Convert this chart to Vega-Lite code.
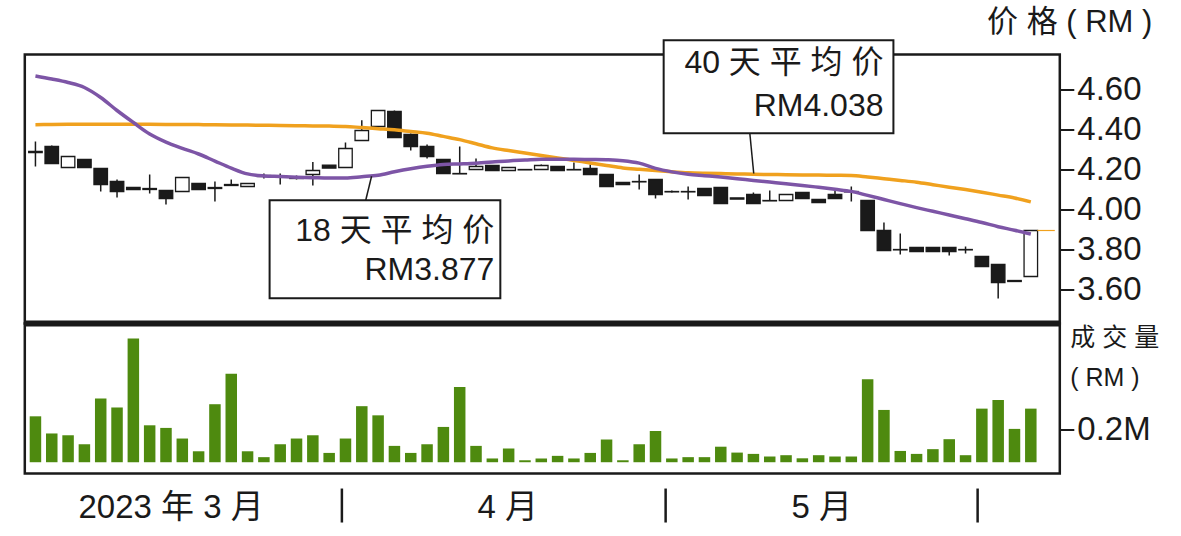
{
  "$schema": "https://vega.github.io/schema/vega-lite/v6.json",
  "padding": {"left": 19.8, "top": 4.5, "right": 0, "bottom": 0},
  "bounds": "flush",
  "spacing": 0,
  "config": {
    "font": "Liberation Sans, Noto Sans CJK SC",
    "view": {"stroke": "#1a1a1a", "strokeWidth": 2.5},
    "axis": {"grid": false, "domain": false, "labelColor": "#1a1a1a", "tickColor": "#1a1a1a", "titleColor": "#1a1a1a", "titleFontWeight": "normal", "labelLimit": 0, "titleLimit": 0}
  },
  "datasets": {
    "k": [
      {"day": 1, "open": 4.285, "high": 4.34, "low": 4.215, "close": 4.29, "vol": 0.281, "ma18": 4.6675, "ma40": 4.424},
      {"day": 2, "open": 4.315, "high": 4.32, "low": 4.23, "close": 4.23, "vol": 0.176, "ma18": 4.6525, "ma40": 4.425},
      {"day": 3, "open": 4.21, "high": 4.265, "low": 4.21, "close": 4.265, "vol": 0.165, "ma18": 4.635, "ma40": 4.426},
      {"day": 4, "open": 4.25, "high": 4.25, "low": 4.21, "close": 4.21, "vol": 0.11, "ma18": 4.61, "ma40": 4.4265},
      {"day": 5, "open": 4.205, "high": 4.205, "low": 4.09, "close": 4.125, "vol": 0.39, "ma18": 4.56, "ma40": 4.4265},
      {"day": 6, "open": 4.14, "high": 4.15, "low": 4.06, "close": 4.09, "vol": 0.335, "ma18": 4.495, "ma40": 4.4265},
      {"day": 7, "open": 4.11, "high": 4.11, "low": 4.1, "close": 4.1, "vol": 0.757, "ma18": 4.435, "ma40": 4.4265},
      {"day": 8, "open": 4.105, "high": 4.175, "low": 4.08, "close": 4.1, "vol": 0.226, "ma18": 4.3775, "ma40": 4.426},
      {"day": 9, "open": 4.095, "high": 4.095, "low": 4.025, "close": 4.055, "vol": 0.21, "ma18": 4.337, "ma40": 4.4255},
      {"day": 10, "open": 4.09, "high": 4.16, "low": 4.09, "close": 4.16, "vol": 0.145, "ma18": 4.306, "ma40": 4.425},
      {"day": 11, "open": 4.13, "high": 4.13, "low": 4.1, "close": 4.1, "vol": 0.067, "ma18": 4.2775, "ma40": 4.4245},
      {"day": 12, "open": 4.11, "high": 4.14, "low": 4.04, "close": 4.105, "vol": 0.355, "ma18": 4.242, "ma40": 4.424},
      {"day": 13, "open": 4.125, "high": 4.15, "low": 4.12, "close": 4.12, "vol": 0.542, "ma18": 4.207, "ma40": 4.423},
      {"day": 14, "open": 4.115, "high": 4.13, "low": 4.115, "close": 4.13, "vol": 0.067, "ma18": 4.178, "ma40": 4.422},
      {"day": 15, "open": 4.165, "high": 4.18, "low": 4.155, "close": 4.17, "vol": 0.031, "ma18": 4.168, "ma40": 4.421},
      {"day": 16, "open": 4.165, "high": 4.18, "low": 4.125, "close": 4.163, "vol": 0.11, "ma18": 4.165, "ma40": 4.42},
      {"day": 17, "open": 4.16, "high": 4.17, "low": 4.15, "close": 4.155, "vol": 0.145, "ma18": 4.1615, "ma40": 4.419},
      {"day": 18, "open": 4.175, "high": 4.237, "low": 4.12, "close": 4.195, "vol": 0.165, "ma18": 4.159, "ma40": 4.418},
      {"day": 19, "open": 4.222, "high": 4.222, "low": 4.207, "close": 4.207, "vol": 0.057, "ma18": 4.157, "ma40": 4.417},
      {"day": 20, "open": 4.21, "high": 4.335, "low": 4.21, "close": 4.305, "vol": 0.145, "ma18": 4.1575, "ma40": 4.4155},
      {"day": 21, "open": 4.345, "high": 4.446, "low": 4.345, "close": 4.395, "vol": 0.343, "ma18": 4.164, "ma40": 4.4095},
      {"day": 22, "open": 4.415, "high": 4.495, "low": 4.415, "close": 4.495, "vol": 0.287, "ma18": 4.1715, "ma40": 4.404},
      {"day": 23, "open": 4.49, "high": 4.495, "low": 4.36, "close": 4.36, "vol": 0.1, "ma18": 4.1885, "ma40": 4.3985},
      {"day": 24, "open": 4.375, "high": 4.38, "low": 4.295, "close": 4.315, "vol": 0.057, "ma18": 4.2035, "ma40": 4.39},
      {"day": 25, "open": 4.315, "high": 4.325, "low": 4.255, "close": 4.265, "vol": 0.11, "ma18": 4.216, "ma40": 4.3815},
      {"day": 26, "open": 4.25, "high": 4.25, "low": 4.18, "close": 4.18, "vol": 0.216, "ma18": 4.225, "ma40": 4.3655},
      {"day": 27, "open": 4.18, "high": 4.315, "low": 4.178, "close": 4.178, "vol": 0.461, "ma18": 4.228, "ma40": 4.3495},
      {"day": 28, "open": 4.2, "high": 4.255, "low": 4.2, "close": 4.215, "vol": 0.1, "ma18": 4.2315, "ma40": 4.329},
      {"day": 29, "open": 4.22, "high": 4.22, "low": 4.195, "close": 4.195, "vol": 0.023, "ma18": 4.237, "ma40": 4.308},
      {"day": 30, "open": 4.195, "high": 4.21, "low": 4.195, "close": 4.21, "vol": 0.084, "ma18": 4.243, "ma40": 4.2945},
      {"day": 31, "open": 4.2, "high": 4.2, "low": 4.198, "close": 4.198, "vol": 0.012, "ma18": 4.247, "ma40": 4.2825},
      {"day": 32, "open": 4.2, "high": 4.225, "low": 4.2, "close": 4.22, "vol": 0.023, "ma18": 4.251, "ma40": 4.27},
      {"day": 33, "open": 4.215, "high": 4.215, "low": 4.195, "close": 4.195, "vol": 0.039, "ma18": 4.2515, "ma40": 4.258},
      {"day": 34, "open": 4.2, "high": 4.235, "low": 4.198, "close": 4.198, "vol": 0.023, "ma18": 4.2515, "ma40": 4.2455},
      {"day": 35, "open": 4.205, "high": 4.225, "low": 4.175, "close": 4.175, "vol": 0.057, "ma18": 4.25, "ma40": 4.233},
      {"day": 36, "open": 4.175, "high": 4.175, "low": 4.115, "close": 4.115, "vol": 0.139, "ma18": 4.2485, "ma40": 4.2205},
      {"day": 37, "open": 4.135, "high": 4.135, "low": 4.125, "close": 4.125, "vol": 0.012, "ma18": 4.244, "ma40": 4.208},
      {"day": 38, "open": 4.14, "high": 4.175, "low": 4.1, "close": 4.138, "vol": 0.11, "ma18": 4.232, "ma40": 4.201},
      {"day": 39, "open": 4.15, "high": 4.15, "low": 4.055, "close": 4.075, "vol": 0.191, "ma18": 4.2055, "ma40": 4.1945},
      {"day": 40, "open": 4.09, "high": 4.095, "low": 4.085, "close": 4.088, "vol": 0.023, "ma18": 4.188, "ma40": 4.1885},
      {"day": 41, "open": 4.09, "high": 4.115, "low": 4.05, "close": 4.088, "vol": 0.031, "ma18": 4.176, "ma40": 4.1835},
      {"day": 42, "open": 4.105, "high": 4.105, "low": 4.07, "close": 4.07, "vol": 0.031, "ma18": 4.169, "ma40": 4.181},
      {"day": 43, "open": 4.11, "high": 4.11, "low": 4.03, "close": 4.03, "vol": 0.095, "ma18": 4.162, "ma40": 4.1795},
      {"day": 44, "open": 4.058, "high": 4.058, "low": 4.052, "close": 4.052, "vol": 0.059, "ma18": 4.1535, "ma40": 4.178},
      {"day": 45, "open": 4.075, "high": 4.085, "low": 4.03, "close": 4.03, "vol": 0.051, "ma18": 4.1455, "ma40": 4.176},
      {"day": 46, "open": 4.045, "high": 4.095, "low": 4.043, "close": 4.043, "vol": 0.035, "ma18": 4.137, "ma40": 4.175},
      {"day": 47, "open": 4.045, "high": 4.075, "low": 4.045, "close": 4.075, "vol": 0.043, "ma18": 4.1285, "ma40": 4.174},
      {"day": 48, "open": 4.085, "high": 4.085, "low": 4.055, "close": 4.055, "vol": 0.024, "ma18": 4.1205, "ma40": 4.173},
      {"day": 49, "open": 4.05, "high": 4.05, "low": 4.035, "close": 4.035, "vol": 0.043, "ma18": 4.111, "ma40": 4.172},
      {"day": 50, "open": 4.075, "high": 4.095, "low": 4.055, "close": 4.055, "vol": 0.035, "ma18": 4.101, "ma40": 4.171},
      {"day": 51, "open": 4.09, "high": 4.115, "low": 4.04, "close": 4.088, "vol": 0.035, "ma18": 4.0905, "ma40": 4.17},
      {"day": 52, "open": 4.045, "high": 4.045, "low": 3.895, "close": 3.895, "vol": 0.508, "ma18": 4.0705, "ma40": 4.1625},
      {"day": 53, "open": 3.895, "high": 3.935, "low": 3.795, "close": 3.795, "vol": 0.32, "ma18": 4.05, "ma40": 4.154},
      {"day": 54, "open": 3.8, "high": 3.88, "low": 3.775, "close": 3.798, "vol": 0.069, "ma18": 4.0295, "ma40": 4.1455},
      {"day": 55, "open": 3.81, "high": 3.81, "low": 3.79, "close": 3.79, "vol": 0.051, "ma18": 4.0095, "ma40": 4.1365},
      {"day": 56, "open": 3.81, "high": 3.81, "low": 3.79, "close": 3.79, "vol": 0.08, "ma18": 3.991, "ma40": 4.124},
      {"day": 57, "open": 3.81, "high": 3.81, "low": 3.77, "close": 3.79, "vol": 0.141, "ma18": 3.9725, "ma40": 4.1115},
      {"day": 58, "open": 3.8, "high": 3.815, "low": 3.78, "close": 3.798, "vol": 0.043, "ma18": 3.954, "ma40": 4.0995},
      {"day": 59, "open": 3.765, "high": 3.765, "low": 3.715, "close": 3.715, "vol": 0.328, "ma18": 3.935, "ma40": 4.0865},
      {"day": 60, "open": 3.725, "high": 3.725, "low": 3.555, "close": 3.635, "vol": 0.381, "ma18": 3.914, "ma40": 4.072},
      {"day": 61, "open": 3.645, "high": 3.645, "low": 3.64, "close": 3.64, "vol": 0.204, "ma18": 3.8965, "ma40": 4.0575},
      {"day": 62, "open": 3.665, "high": 3.895, "low": 3.665, "close": 3.895, "vol": 0.328, "ma18": 3.877, "ma40": 4.038}
    ],
    "months": [
      {"label": "2023 年 3 月", "mid": 9.28, "end": 19.78},
      {"label": "4 月", "mid": 29.92, "end": 39.62},
      {"label": "5 月", "mid": 49.15, "end": 58.74}
    ]
  },
  "vconcat": [
    {
      "width": 1035,
      "height": 269,
      "data": {"name": "k"},
      "layer": [
        {
          "mark": {"type": "rule", "color": "#1a1a1a", "strokeWidth": 1.5},
          "encoding": {
            "x": {"field": "day", "type": "quantitative", "scale": {"domain": [0.654, 63.47], "nice": false, "zero": false}, "axis": null},
            "y": {
              "field": "low", "type": "quantitative",
              "scale": {"domain": [3.43, 4.775], "nice": false, "zero": false},
              "axis": {
                "orient": "right", "values": [3.6, 3.8, 4.0, 4.2, 4.4, 4.6], "format": ".2f",
                "labelFontSize": 33, "tickSize": 14, "tickWidth": 2, "labelPadding": 3,
                "title": "价 格 ( RM )", "titleAngle": 0, "titleFontSize": 31,
                "titleAlign": "right", "titleBaseline": "middle", "titleX": 92, "titleY": -32.5
              }
            },
            "y2": {"field": "high"}
          }
        },
        {
          "mark": {"type": "bar", "size": 13.5, "stroke": "#1a1a1a", "strokeWidth": 1.3},
          "encoding": {
            "x": {"field": "day", "type": "quantitative"},
            "y": {"field": "open", "type": "quantitative"},
            "y2": {"field": "close"},
            "fill": {"condition": {"test": "datum.close < datum.open", "value": "#1a1a1a"}, "value": "white"}
          }
        },
        {
          "mark": {"type": "line", "color": "#f0a11e", "strokeWidth": 3.5, "interpolate": "monotone"},
          "encoding": {"x": {"field": "day", "type": "quantitative"}, "y": {"field": "ma40", "type": "quantitative"}}
        },
        {
          "mark": {"type": "line", "color": "#7d55a6", "strokeWidth": 3.5, "interpolate": "monotone"},
          "encoding": {"x": {"field": "day", "type": "quantitative"}, "y": {"field": "ma18", "type": "quantitative"}}
        },
        {
          "transform": [{"filter": "datum.day == 62"}],
          "mark": {"type": "rule", "color": "#f0a11e", "strokeWidth": 1.2},
          "encoding": {"x": {"datum": 62.4}, "x2": {"datum": 63.47}, "y": {"field": "close", "type": "quantitative"}}
        },
        {
          "transform": [{"filter": "datum.day == 1"}],
          "mark": {"type": "rule", "color": "#1a1a1a", "strokeWidth": 6},
          "encoding": {"y": {"datum": 3.43}}
        },
        {
          "transform": [{"filter": "datum.day == 1"}],
          "mark": {"type": "rule", "color": "#1a1a1a", "strokeWidth": 1.5},
          "encoding": {"x": {"datum": 44.78}, "x2": {"datum": 45.02}, "y": {"datum": 4.3815}, "y2": {"datum": 4.18}}
        },
        {
          "transform": [{"filter": "datum.day == 1"}],
          "mark": {"type": "rule", "color": "#1a1a1a", "strokeWidth": 1.5},
          "encoding": {"x": {"datum": 21.24}, "x2": {"datum": 21.6}, "y": {"datum": 4.0465}, "y2": {"datum": 4.166}}
        },
        {
          "transform": [{"filter": "datum.day == 1"}],
          "mark": {"type": "rect", "fill": "white", "stroke": "#1a1a1a", "strokeWidth": 2},
          "encoding": {"x": {"datum": 39.5}, "x2": {"datum": 53.58}, "y": {"datum": 4.8465}, "y2": {"datum": 4.3815}}
        },
        {
          "transform": [{"filter": "datum.day == 1"}],
          "mark": {"type": "rect", "fill": "white", "stroke": "#1a1a1a", "strokeWidth": 2},
          "encoding": {"x": {"datum": 15.35}, "x2": {"datum": 29.49}, "y": {"datum": 4.0465}, "y2": {"datum": 3.5565}}
        },
        {
          "transform": [{"filter": "datum.day == 1"}],
          "mark": {"type": "text", "align": "right", "baseline": "middle", "fontSize": 32, "color": "#1a1a1a"},
          "encoding": {"x": {"datum": 52.97}, "y": {"datum": 4.7315}, "text": {"value": "40 天 平 均 价"}}
        },
        {
          "transform": [{"filter": "datum.day == 1"}],
          "mark": {"type": "text", "align": "right", "baseline": "middle", "fontSize": 32, "color": "#1a1a1a"},
          "encoding": {"x": {"datum": 52.97}, "y": {"datum": 4.5165}, "text": {"value": "RM4.038"}}
        },
        {
          "transform": [{"filter": "datum.day == 1"}],
          "mark": {"type": "text", "align": "right", "baseline": "middle", "fontSize": 32, "color": "#1a1a1a"},
          "encoding": {"x": {"datum": 29.12}, "y": {"datum": 3.8915}, "text": {"value": "18 天 平 均 价"}}
        },
        {
          "transform": [{"filter": "datum.day == 1"}],
          "mark": {"type": "text", "align": "right", "baseline": "middle", "fontSize": 32, "color": "#1a1a1a"},
          "encoding": {"x": {"datum": 29.12}, "y": {"datum": 3.6965}, "text": {"value": "RM3.877"}}
        }
      ]
    },
    {
      "width": 1035,
      "height": 150,
      "data": {"name": "k"},
      "layer": [
        {
          "mark": {"type": "bar", "size": 11.5, "color": "#4e8a0f"},
          "encoding": {
            "x": {
              "field": "day", "type": "quantitative",
              "scale": {"domain": [0.654, 63.47], "nice": false, "zero": false},
              "axis": {
                "values": [9.28, 29.92, 49.15], "ticks": false, "labelPadding": 18,
                "labelFontSize": 33, "labelFlush": false, "labelOverlap": false, "title": null,
                "labelExpr": "datum.value < 15 ? '2023 年 3 月' : datum.value < 40 ? '4 月' : '5 月'"
              }
            },
            "y": {
              "field": "vol", "type": "quantitative",
              "scale": {"domain": [-0.069, 0.849], "nice": false, "zero": false},
              "axis": {
                "orient": "right", "values": [0.2], "labelExpr": "format(datum.value, '.1f') + 'M'",
                "labelFontSize": 33, "tickSize": 14, "tickWidth": 2, "labelPadding": 3,
                "title": ["成 交 量", "( RM )"], "titleAngle": 0, "titleFontSize": 25,
                "titleAlign": "left", "titleBaseline": "top", "titleLineHeight": 40,
                "titleX": 10, "titleY": 2
              }
            },
            "y2": {"datum": 0}
          }
        },
        {
          "data": {"name": "months"},
          "mark": {"type": "rule", "color": "#1a1a1a", "strokeWidth": 2.5},
          "encoding": {
            "x": {"field": "end", "type": "quantitative"},
            "y": {"datum": -0.161},
            "y2": {"datum": -0.369}
          }
        }
      ]
    }
  ]
}
